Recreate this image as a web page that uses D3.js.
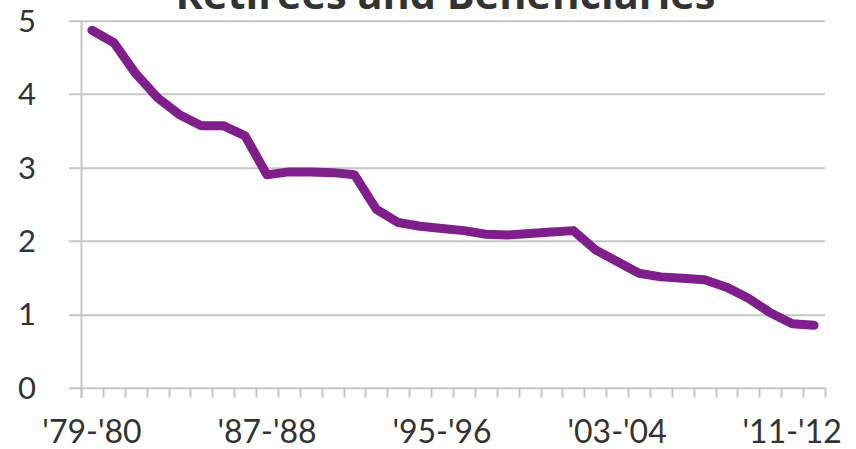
<!DOCTYPE html>
<html>
<head>
<meta charset="utf-8">
<script src="https://cdn.jsdelivr.net/npm/d3@7"></script>
<style>
  html, body { margin: 0; padding: 0; background: #fff; }
  svg { display: block; }
</style>
</head>
<body>
<script>
// School years, 1979-80 through 2012-13
const years = d3.range(1979, 2013).map(y => {
  const a = String(y % 100).padStart(2, "0");
  const b = String((y + 1) % 100).padStart(2, "0");
  return "'" + a + "-'" + b;
});

// Ratio of active members to retirees and beneficiaries
const ratios = [
  4.87, 4.70, 4.28, 3.95, 3.72, 3.57, 3.57, 3.43, 2.90, 2.94,
  2.94, 2.93, 2.90, 2.43, 2.25, 2.20, 2.17, 2.14, 2.09, 2.08,
  2.10, 2.12, 2.14, 1.88, 1.72, 1.56, 1.51, 1.49, 1.47, 1.37,
  1.22, 1.02, 0.87, 0.85
];

const yTicks = [0, 1, 2, 3, 4, 5];
const labelEvery = 8;
const title = "Retirees and Beneficiaries";

const W = 856, H = 449;
const margin = { top: 20.7, right: 31, bottom: 61.3, left: 81 };
const innerW = W - margin.left - margin.right;
const innerH = H - margin.top - margin.bottom;

const svg = d3.select("body").append("svg")
  .attr("width", W).attr("height", H);

const x = d3.scaleBand().domain(years).range([0, innerW]).padding(0);
const y = d3.scaleLinear().domain([0, 5]).range([innerH, 0]);

const g = svg.append("g")
  .attr("transform", `translate(${margin.left},${margin.top})`);

const gridColor = "#c6c6c6";
const textColor = "#333333";
const labelFont = "Lato, 'Open Sans', sans-serif";

// Horizontal gridlines (extend a bit left of the axis as tick marks)
g.append("g")
  .selectAll("line")
  .data(yTicks)
  .join("line")
  .attr("x1", -12).attr("x2", innerW)
  .attr("y1", d => Math.round(y(d)) + 0.5)
  .attr("y2", d => Math.round(y(d)) + 0.5)
  .attr("stroke", gridColor).attr("stroke-width", 2);

// Vertical axis line
g.append("line")
  .attr("x1", 0.5).attr("x2", 0.5)
  .attr("y1", y(5)).attr("y2", innerH + 10)
  .attr("stroke", gridColor).attr("stroke-width", 2);

// Category tick marks between bands
const tickPos = years.map(d => x(d)).concat([innerW]);
g.append("g")
  .selectAll("line")
  .data(tickPos)
  .join("line")
  .attr("x1", d => Math.round(d) + 0.5).attr("x2", d => Math.round(d) + 0.5)
  .attr("y1", innerH).attr("y2", innerH + 10)
  .attr("stroke", gridColor).attr("stroke-width", 2);

// Y tick labels
g.append("g")
  .selectAll("text")
  .data(yTicks)
  .join("text")
  .attr("x", -54)
  .attr("y", d => y(d))
  .attr("dy", "0.36em")
  .attr("text-anchor", "middle")
  .attr("font-family", labelFont)
  .attr("font-size", 31)
  .attr("fill", textColor)
  .text(d => d);

// X tick labels, every eighth year
g.append("g")
  .selectAll("text")
  .data(years.filter((d, i) => i % labelEvery === 0))
  .join("text")
  .attr("x", d => x(d) + x.bandwidth() / 2)
  .attr("y", innerH + 55)
  .attr("text-anchor", "middle")
  .attr("font-family", labelFont)
  .attr("font-size", 32)
  .attr("fill", textColor)
  .text(d => d);

// Data line
const line = d3.line()
  .x((d, i) => x(years[i]) + x.bandwidth() / 2)
  .y(d => y(d));

g.append("path")
  .datum(ratios)
  .attr("d", line)
  .attr("fill", "none")
  .attr("stroke", "#7f1f8c")
  .attr("stroke-width", 9)
  .attr("stroke-linejoin", "round")
  .attr("stroke-linecap", "round");

// Title (partly above the top edge)
svg.append("text")
  .attr("x", 445.5)
  .attr("y", 9)
  .attr("text-anchor", "middle")
  .attr("font-family", "'Open Sans', 'Liberation Sans', sans-serif")
  .attr("font-weight", 700)
  .attr("font-size", 41.5)
  .attr("fill", textColor)
  .text(title);
</script>
</body>
</html>
